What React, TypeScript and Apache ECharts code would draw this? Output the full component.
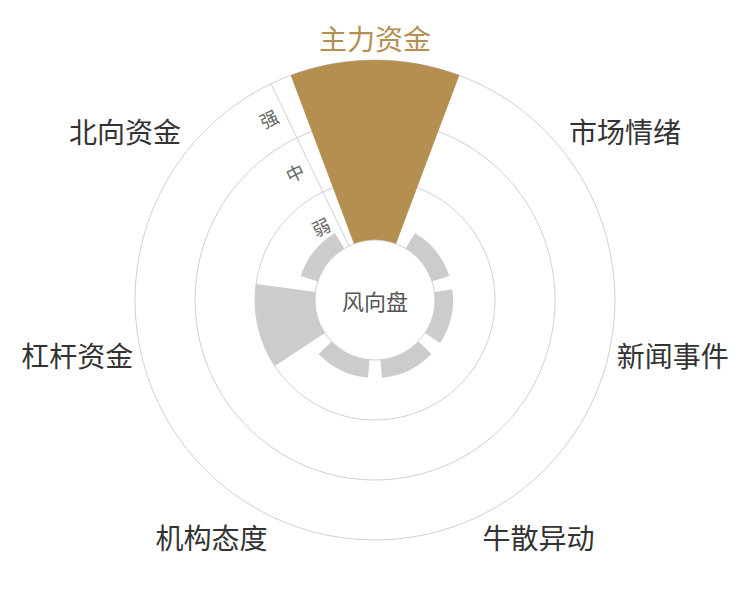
import * as echarts from "echarts";
import { useEffect, useRef } from "react";

const categories = ["主力资金", "市场情绪", "新闻事件", "牛散异动", "机构态度", "杠杆资金", "北向资金"];
const strengths = [3, 0.3, 0.3, 0.3, 0.3, 1, 0.3];
const levels = ["弱", "中", "强"];
const activeIndex = 0;

const BROWN = "#b58e52";
const GREY = "#cccccc";
const LINE = "#d0d0d0";
const FONT = "'Noto Sans CJK SC', 'Noto Sans', sans-serif";

// first category centred on top
const START = 90 + 360 / categories.length / 2;

function getOption() {
  const polar = { center: ["50%", "50%"], radius: [60, 240] };
  return {
    animation: false,
    textStyle: { fontFamily: FONT },
    polar: [polar, { ...polar }],
    angleAxis: [
      {
        polarIndex: 0,
        type: "category",
        data: categories.map((c, i) => ({
          value: c,
          textStyle: { color: i === activeIndex ? BROWN : "#333" },
        })),
        startAngle: START,
        clockwise: true,
        axisLine: { show: false },
        axisTick: { show: false },
        splitLine: { show: false },
        axisLabel: { fontSize: 28, margin: 8, color: "#333", fontFamily: FONT },
      },
      {
        polarIndex: 1,
        type: "category",
        data: categories,
        startAngle: START,
        clockwise: true,
        show: false,
      },
    ],
    radiusAxis: [
      {
        polarIndex: 0,
        type: "value",
        min: 0,
        max: 3,
        interval: 1,
        show: false,
      },
      {
        polarIndex: 1,
        type: "category",
        data: levels,
        axisLine: { show: true, lineStyle: { color: LINE, width: 1 } },
        axisTick: { show: false },
        splitLine: { show: true, lineStyle: { color: LINE, width: 1 } },
        axisLabel: {
          rotate: START - 90,
          fontSize: 18,
          color: "#666",
          margin: 8,
          fontFamily: FONT,
        },
        z: 0,
      },
    ],
    series: [
      {
        type: "bar",
        coordinateSystem: "polar",
        polarIndex: 0,
        barCategoryGap: "20%",
        data: strengths.map((v, i) => ({
          value: v,
          itemStyle: { color: i === activeIndex ? BROWN : GREY },
        })),
        z: 3,
      },
    ],
    graphic: [
      {
        type: "text",
        left: "center",
        top: "middle",
        style: {
          text: "风向盘",
          fontSize: 22,
          fill: "#555",
          fontFamily: FONT,
        },
      },
    ],
  };
}

export default function App() {
  const ref = useRef<HTMLDivElement>(null);

  useEffect(() => {
    document.body.style.margin = "0";
    if (!ref.current) return;
    const chart = echarts.init(ref.current, null, { renderer: "svg" });
    chart.setOption(getOption());
    return () => chart.dispose();
  }, []);

  return <div ref={ref} style={{ width: 750, height: 600 }} />;
}
